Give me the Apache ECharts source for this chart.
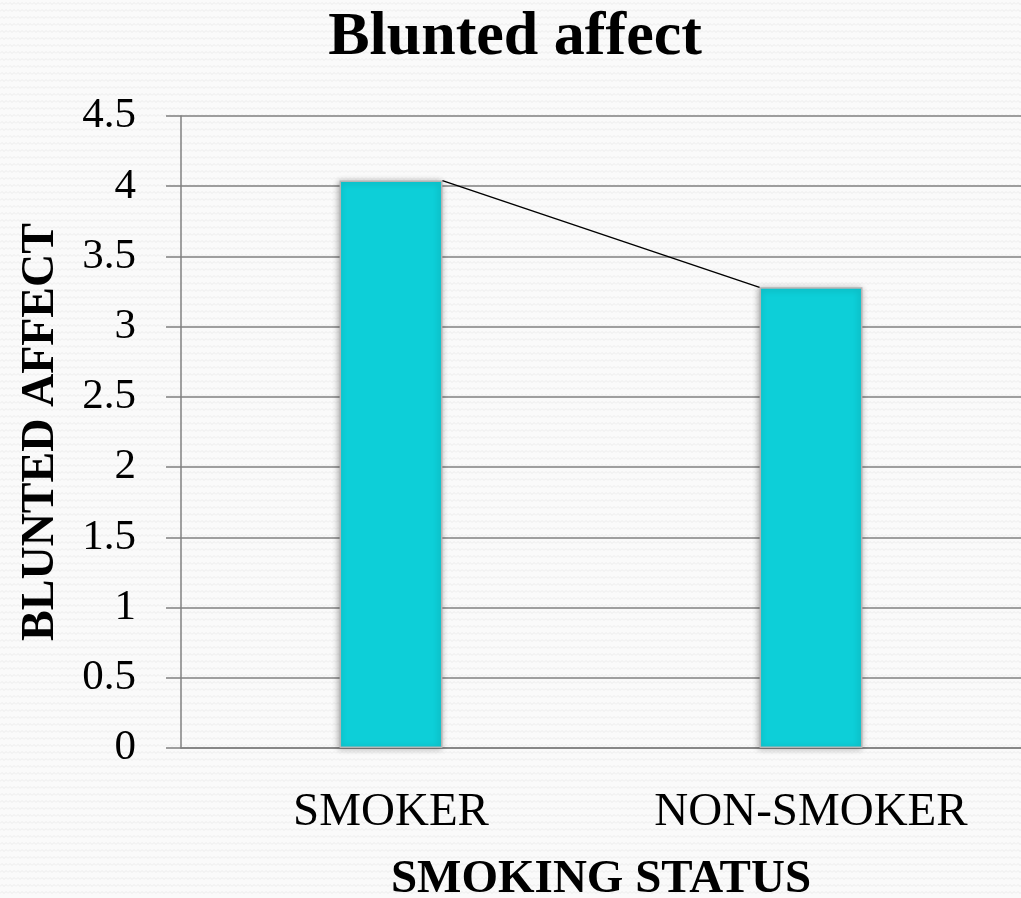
<!DOCTYPE html>
<html>
<head>
<meta charset="utf-8">
<script src="https://cdn.jsdelivr.net/npm/echarts@6/dist/echarts.min.js"></script>
<style>
  html, body { margin: 0; padding: 0; background: #fafafa; }
  #chart { width: 1021px; height: 898px; }
</style>
</head>
<body>
<div id="chart"></div>
<script>
// Mean blunted-affect score by smoking status
const categories = ['SMOKER', 'NON-SMOKER'];
const values = [4.04, 3.28];
const yTicks = [0, 0.5, 1, 1.5, 2, 2.5, 3, 3.5, 4, 4.5];

const SERIF = '"Liberation Serif", "DejaVu Serif", serif';
const BAR_RATIO = 0.245;

// Faint wavy texture for the page background
function wavePattern() {
  const c = document.createElement('canvas');
  c.width = 8; c.height = 7;
  const g = c.getContext('2d');
  g.fillStyle = '#fafafa';
  g.fillRect(0, 0, 8, 7);
  g.strokeStyle = '#ececec';
  g.lineWidth = 1;
  g.beginPath();
  g.moveTo(0, 4.5);
  g.lineTo(2, 2.5);
  g.lineTo(4, 4.5);
  g.lineTo(6, 2.5);
  g.lineTo(8, 4.5);
  g.stroke();
  return c;
}

const chart = echarts.init(document.getElementById('chart'), null, { renderer: 'canvas' });

chart.setOption({
  backgroundColor: { image: wavePattern(), repeat: 'repeat' },
  animation: false,
  title: {
    text: 'Blunted affect',
    top: 2,
    left: 510,
    textAlign: 'center',
    textStyle: { fontFamily: SERIF, fontWeight: 'bold', fontSize: 62, color: '#000' }
  },
  grid: { left: 181, right: 0, top: 116, bottom: 150, containLabel: false, outerBoundsMode: 'none' },
  xAxis: {
    type: 'category',
    data: categories,
    name: 'SMOKING STATUS',
    nameLocation: 'middle',
    nameGap: 108,
    nameTextStyle: { fontFamily: SERIF, fontWeight: 'bold', fontSize: 47, color: '#000' },
    axisLine: { show: true, lineStyle: { color: '#808080', width: 1.5 } },
    axisTick: { show: false },
    axisLabel: { fontFamily: SERIF, fontSize: 47, color: '#000', margin: 41 }
  },
  yAxis: {
    type: 'value',
    min: yTicks[0],
    max: yTicks[yTicks.length - 1],
    interval: 0.5,
    name: 'BLUNTED AFFECT',
    nameLocation: 'middle',
    nameGap: 117,
    nameRotate: 90,
    nameTextStyle: { fontFamily: SERIF, fontWeight: 'bold', fontSize: 46, color: '#000' },
    axisLine: { show: true, lineStyle: { color: '#808080', width: 1.5 } },
    axisTick: { show: true, length: 15, lineStyle: { color: '#808080', width: 1.5 } },
    axisLabel: { fontFamily: SERIF, fontSize: 43, color: '#000', margin: 45 },
    splitLine: { show: true, lineStyle: { color: '#808080', width: 1.5 } }
  },
  series: [
    {
      type: 'bar',
      data: values,
      barWidth: (BAR_RATIO * 100) + '%',
      itemStyle: {
        color: '#0dcfd8',
        borderColor: '#b4b4b4',
        borderWidth: 1.5,
        shadowColor: 'rgba(0,0,0,0.3)',
        shadowBlur: 6,
        shadowOffsetX: -1,
        shadowOffsetY: 1
      },
      z: 2
    },
    {
      // series line joining the top corners of neighbouring bars
      type: 'custom',
      data: values.map((v, i) => [i, v]),
      z: 3,
      silent: true,
      renderItem: function (params, api) {
        const i = params.dataIndex;
        if (i >= values.length - 1) return null;
        const p1 = api.coord([i, values[i]]);
        const p2 = api.coord([i + 1, values[i + 1]]);
        const half = api.size([1, 0])[0] * BAR_RATIO / 2;
        return {
          type: 'line',
          shape: { x1: p1[0] + half, y1: p1[1], x2: p2[0] - half, y2: p2[1] },
          style: { stroke: '#000', lineWidth: 1.5 }
        };
      }
    }
  ]
});
</script>
</body>
</html>
